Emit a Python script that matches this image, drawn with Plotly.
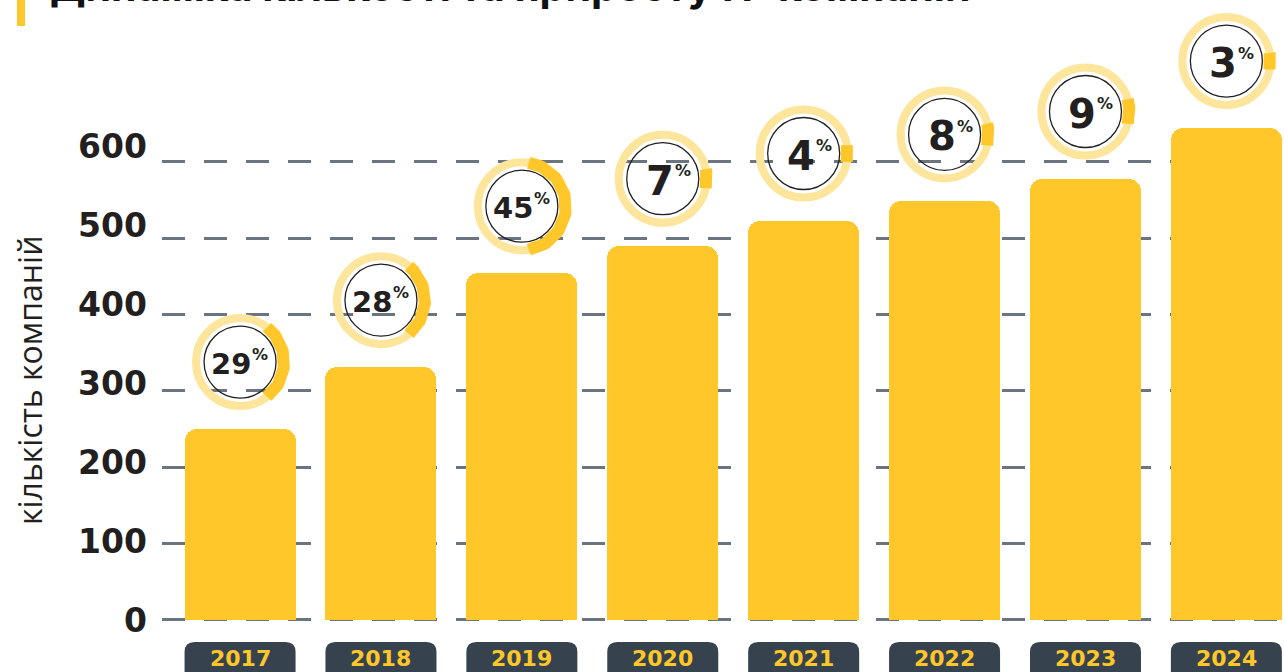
import math
import plotly.graph_objects as go

# ---------------- data ----------------
years = [2017, 2018, 2019, 2020, 2021, 2022, 2023, 2024]
companies = [250, 331, 454, 490, 523, 548, 578, 644]
growth_pct = [29, 28, 45, 7, 4, 8, 9, 3]
y_ticks = [0, 100, 200, 300, 400, 500, 600]
y_tick_labels = ["0", "100", "200", "300", "400", "500", "600"]
title_text = "Динаміка кількості та приросту IT-компаній"
y_title = "кількість компаній"

# ---------------- style / geometry ----------------
W_FIG, H_FIG = 1284, 672
M_L = 162
PLOT_W = W_FIG - M_L
X_RANGE = [2016.446, 2024.409]
Y_RANGE = [-68.1, 811.7]
Y2_RANGE = [-64.9, 785.7]
UX = PLOT_W / (X_RANGE[1] - X_RANGE[0])      # px per year
UY = H_FIG / (Y_RANGE[1] - Y_RANGE[0])       # px per company

BAR_YELLOW = "#FFC72A"
RING_LIGHT = "#FDE59C"
DARK = "#231F20"
SLATE = "#36434F"
GRID = "#6B7581"

BAR_W_PX = 111
CIRCLE_GAP_PX = 67      # circle centre above bar top
RING_R_PX = 44
ARC_W_PX = 12


def px_y(p):
    """pixel distance -> data units on y"""
    return p / UY


def px_x(p):
    return p / UX


fig = go.Figure()

# bars
fig.add_trace(go.Bar(
    x=years, y=companies, width=BAR_W_PX / UX,
    marker=dict(color=BAR_YELLOW, cornerradius=12, line=dict(width=0)),
    hoverinfo="x+y", showlegend=False,
))

centers_y = [v + px_y(CIRCLE_GAP_PX) for v in companies]

# light ring
fig.add_trace(go.Scatter(
    x=years, y=centers_y, mode="markers",
    marker=dict(symbol="circle-open", size=2 * 44, color=RING_LIGHT,
                line=dict(width=8, color=RING_LIGHT)),
    hoverinfo="skip", showlegend=False,
))
# thin inner circle
fig.add_trace(go.Scatter(
    x=years, y=centers_y, mode="markers",
    marker=dict(symbol="circle-open", size=72, color=DARK,
                line=dict(width=1.3, color=DARK)),
    hoverinfo="skip", showlegend=False,
))

# growth arcs (centred at 3 o'clock, span proportional to growth)
for yr, cy, pct in zip(years, centers_y, growth_pct):
    span = max(pct / 100 * 360, 22)
    n = 60
    xs, ys = [], []
    for i in range(n + 1):
        t = math.radians(-span / 2 + span * i / n)
        xs.append(yr + px_x(RING_R_PX * math.cos(t)))
        ys.append(cy + px_y(RING_R_PX * math.sin(t)))
    fig.add_trace(go.Scatter(
        x=xs, y=ys, mode="lines",
        line=dict(color=BAR_YELLOW, width=ARC_W_PX),
        hoverinfo="skip", showlegend=False,
    ))

# dummy trace so the label axis is drawn
fig.add_trace(go.Scatter(x=[None], y=[None], yaxis="y2", showlegend=False,
                         hoverinfo="skip"))

annotations = []
for yr, cy, pct in zip(years, centers_y, growth_pct):
    big = len(str(pct)) == 1
    annotations.append(dict(
        x=yr, y=cy, xref="x", yref="y", text=str(pct), showarrow=False,
        xanchor="right", yanchor="middle", xshift=13, yshift=-2,
        font=dict(family="DejaVu Sans", size=40 if big else 29, color=DARK,
                  weight=800),
    ))
    annotations.append(dict(
        x=yr, y=cy, xref="x", yref="y", text="%", showarrow=False,
        xanchor="left", yanchor="middle", xshift=10, yshift=8,
        font=dict(family="DejaVu Sans", size=16, color=DARK, weight=700),
    ))

# year label boxes
shapes = []
box_top = -px_y(642 - 620)
box_bot = -px_y(700 - 620)
rx, ry = px_x(10), px_y(10)
for yr in years:
    xl = yr - px_x(BAR_W_PX / 2)
    xr = yr + px_x(BAR_W_PX / 2)
    path = (f"M {xl},{box_bot} L {xl},{box_top - ry} Q {xl},{box_top} {xl + rx},{box_top} "
            f"L {xr - rx},{box_top} Q {xr},{box_top} {xr},{box_top - ry} L {xr},{box_bot} Z")
    shapes.append(dict(type="path", path=path, xref="x", yref="y",
                       fillcolor=SLATE, line=dict(width=0), layer="above"))
    annotations.append(dict(
        x=yr, y=-px_y(659 - 620), xref="x", yref="y", text=str(yr),
        showarrow=False, xanchor="center", yanchor="middle",
        font=dict(family="DejaVu Sans", size=22, color=BAR_YELLOW, weight=800),
    ))

# title (cut by the top edge, as in the source) and accent bar
annotations.append(dict(
    x=(48 - M_L) / PLOT_W, y=1 - 13 / H_FIG, xref="paper", yref="paper",
    text=title_text, showarrow=False, xanchor="left", yanchor="bottom",
    font=dict(family="Inter", size=41, color="#111111", weight=700),
))
shapes.append(dict(type="rect", xref="paper", yref="paper",
                   x0=(17 - M_L) / PLOT_W, x1=(25 - M_L) / PLOT_W,
                   y0=1 - 26 / H_FIG, y1=1.05, fillcolor=BAR_YELLOW,
                   line=dict(width=0)))

# y-axis title
annotations.append(dict(
    x=(29 - M_L) / PLOT_W, y=1 - 380 / H_FIG, xref="paper", yref="paper",
    text=y_title, showarrow=False, textangle=-90,
    xanchor="center", yanchor="middle",
    font=dict(family="Open Sans", size=32, color=DARK),
))

fig.update_layout(
    width=W_FIG, height=H_FIG,
    margin=dict(l=M_L, r=0, t=0, b=0, autoexpand=False),
    template="none",
    paper_bgcolor="white", plot_bgcolor="white",
    showlegend=False,
    bargap=0,
    xaxis=dict(range=X_RANGE, showticklabels=False, showgrid=False,
               zeroline=False, showline=False, ticks=""),
    yaxis=dict(range=Y_RANGE, tickvals=y_ticks, showticklabels=False,
               showgrid=True, gridcolor=GRID, gridwidth=3,
               griddash="23px,19px", zeroline=False, showline=False, ticks=""),
    yaxis2=dict(range=Y2_RANGE, overlaying="y", side="left", anchor="x",
                tickvals=y_ticks, ticktext=y_tick_labels, showgrid=False,
                zeroline=False, showline=False, ticks="",
                ticklabelstandoff=14,
                tickfont=dict(family="DejaVu Sans", size=33, color=DARK,
                              weight=800)),
    shapes=shapes,
    annotations=annotations,
)

fig.write_html(
    "out.html",
    config={"displayModeBar": False},
    post_script="document.body.style.margin='0';document.body.style.overflow='hidden';",
)
